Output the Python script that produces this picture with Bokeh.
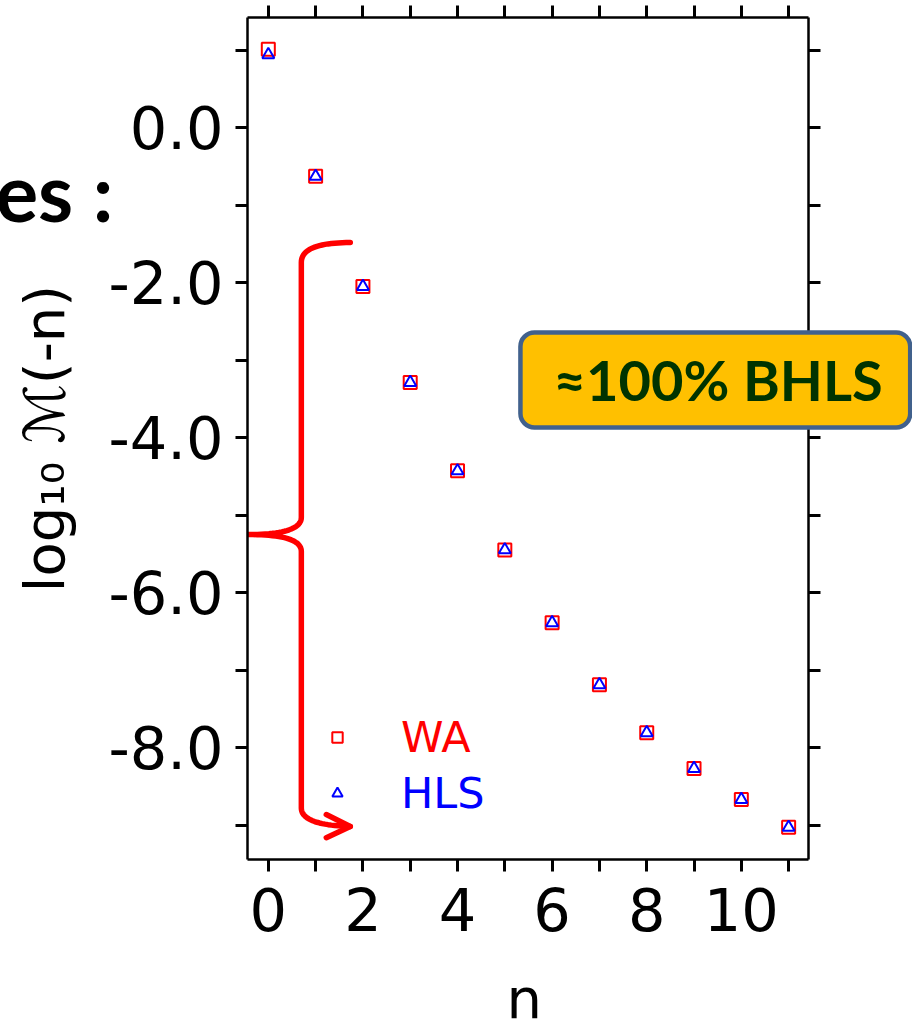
import numpy as np
from bokeh.plotting import figure
from bokeh.models import LinearAxis, FixedTicker, Legend, LegendItem, Range1d
from bokeh.embed import file_html
from bokeh.resources import INLINE
from bokeh.core.properties import value

# ---------------- data ----------------
n_values = list(range(12))
wa_values = [1.01, -0.63, -2.05, -3.29, -4.43, -5.45, -6.39, -7.19, -7.81, -8.27, -8.67, -9.03]
hls_values = [0.94, -0.63, -2.05, -3.29, -4.43, -5.45, -6.39, -7.19, -7.81, -8.27, -8.67, -9.03]

x_ticks = list(range(0, 12))
x_tick_labels = {0: "0", 2: "2", 4: "4", 6: "6", 8: "8", 10: "10"}
y_ticks = [1, 0, -1, -2, -3, -4, -5, -6, -7, -8, -9]
y_tick_labels = {0: "0.0", -2: "-2.0", -4: "-4.0", -6: "-6.0", -8: "-8.0"}

series_names = ["WA", "HLS"]
x_title = "n"
y_title = "log₁₀ ℳ(-n)"
box_text = "≈100% BHLS"
side_text = "es :"

# ---------------- figure ----------------
TICK_FONT = "DejaVu Sans"

p = figure(width=912, height=1019, output_backend="svg", toolbar_location=None,
           x_range=Range1d(-0.44, 11.42), y_range=Range1d(-9.445, 1.42),
           min_border_left=247, min_border_right=104, min_border_top=17, min_border_bottom=160,
           background_fill_color="white", border_fill_color="white")
p.outline_line_color = None
p.grid.visible = False

bottom_axis = p.below[0]
left_axis = p.left[0]
top_axis = LinearAxis()
right_axis = LinearAxis()
p.add_layout(top_axis, "above")
p.add_layout(right_axis, "right")


def style_axis(ax, ticks, labels, show):
    ax.ticker = FixedTicker(ticks=ticks, minor_ticks=[])
    full = {}
    for t in ticks:
        full[t] = labels.get(t, "") if show else ""
    ax.major_label_overrides = full
    ax.axis_line_color = "black"
    ax.axis_line_width = 2.5
    ax.major_tick_line_color = "black"
    ax.major_tick_line_width = 3
    ax.major_tick_in = 0
    ax.major_tick_out = 12
    ax.minor_tick_line_color = None
    ax.major_label_text_font = TICK_FONT
    ax.major_label_text_color = "black"
    if show:
        ax.major_label_text_font_size = "59px"
    else:
        ax.major_label_text_font_size = "0px"
        ax.major_label_standoff = 0


style_axis(bottom_axis, x_ticks, x_tick_labels, True)
style_axis(left_axis, y_ticks, y_tick_labels, True)
style_axis(top_axis, x_ticks, x_tick_labels, False)
style_axis(right_axis, y_ticks, y_tick_labels, False)

bottom_axis.major_label_standoff = 16
left_axis.major_label_standoff = 12
left_axis.axis_label = y_title
left_axis.axis_label_text_font = TICK_FONT
left_axis.axis_label_text_font_size = "56px"
left_axis.axis_label_text_font_style = "normal"
left_axis.axis_label_text_color = "black"
left_axis.axis_label_standoff = 28

# ---------------- brace annotation (drawn in data units) ----------------
brace_segments = [
    ((1.733, -1.484), (0.698, -1.484), (0.698, -1.74)),
    ((0.698, -1.74), (0.698, -3.4), (0.698, -5.03)),
    ((0.698, -5.03), (0.698, -5.25), (-0.42, -5.252)),
    ((-0.42, -5.252), (0.698, -5.25), (0.698, -5.47)),
    ((0.698, -5.47), (0.698, -7.1), (0.698, -8.78)),
    ((0.698, -8.78), (0.698, -9.0), (1.733, -9.019)),
]
arrow_head_x = [1.226, 1.733, 1.226]
arrow_head_y = [-8.865, -9.019, -9.163]


def quad(p0, p1, p2, k=24):
    t = np.linspace(0, 1, k)[:, None]
    a, b, c = np.array(p0), np.array(p1), np.array(p2)
    return (1 - t) ** 2 * a + 2 * (1 - t) * t * b + t ** 2 * c


pts = np.vstack([quad(*s) for s in brace_segments])
p.line(pts[:, 0], pts[:, 1], line_color="#ff0000", line_width=5.5, line_join="round", line_cap="round")
p.line(arrow_head_x, arrow_head_y, line_color="#ff0000", line_width=5.5, line_join="round", line_cap="round")

# ---------------- data markers ----------------
r_wa = p.scatter(n_values, wa_values, marker="square", size=13, fill_color=None,
                 line_color="#ff0000", line_width=2)
r_hls = p.scatter(n_values, hls_values, marker="triangle", size=12, fill_color=None,
                  line_color="#0000ff", line_width=2)

# ---------------- legends ----------------
for name, rend, col, loc in [(series_names[0], r_wa, "#ff0000", (77, 97)),
                             (series_names[1], r_hls, "#0000ff", (77, 41))]:
    lg = Legend(items=[LegendItem(label=name, renderers=[rend])], location=loc,
                label_text_color=col, label_text_font=TICK_FONT, label_text_font_size="43px",
                label_standoff=51, glyph_width=26, glyph_height=26, padding=0, margin=0,
                spacing=0, border_line_color=None, background_fill_alpha=0)
    p.add_layout(lg, "center")

# ---------------- x title, callout box and cropped slide text (overlay level, not clipped) ----------------
p.text(x=[5.41], y=[-11.24], text=[x_title], text_font=value(TICK_FONT),
       text_font_size="56px", text_color="black", text_align="center",
       text_baseline="middle", level="overlay")

box_left, box_right, box_top, box_bottom = 5.33, 13.57, -2.645, -3.87
p.quad(left=[box_left], right=[box_right], top=[box_top], bottom=[box_bottom],
       fill_color="#ffc000", line_color="#41618c", line_width=4.5, border_radius=14,
       level="overlay")
p.text(x=[6.03], y=[-3.252], text=[box_text], text_font=value("Lato"),
       text_font_style="bold", text_font_size="56px", text_color="#003300",
       text_align="left", text_baseline="middle", level="overlay")
p.text(x=[-3.277], y=[-0.813], text=[side_text], text_font=value("Lato"),
       text_font_style="bold", text_font_size="80px", text_color="black",
       text_align="right", text_baseline="middle", level="overlay")

open("out.html", "w").write(file_html(p, INLINE))
